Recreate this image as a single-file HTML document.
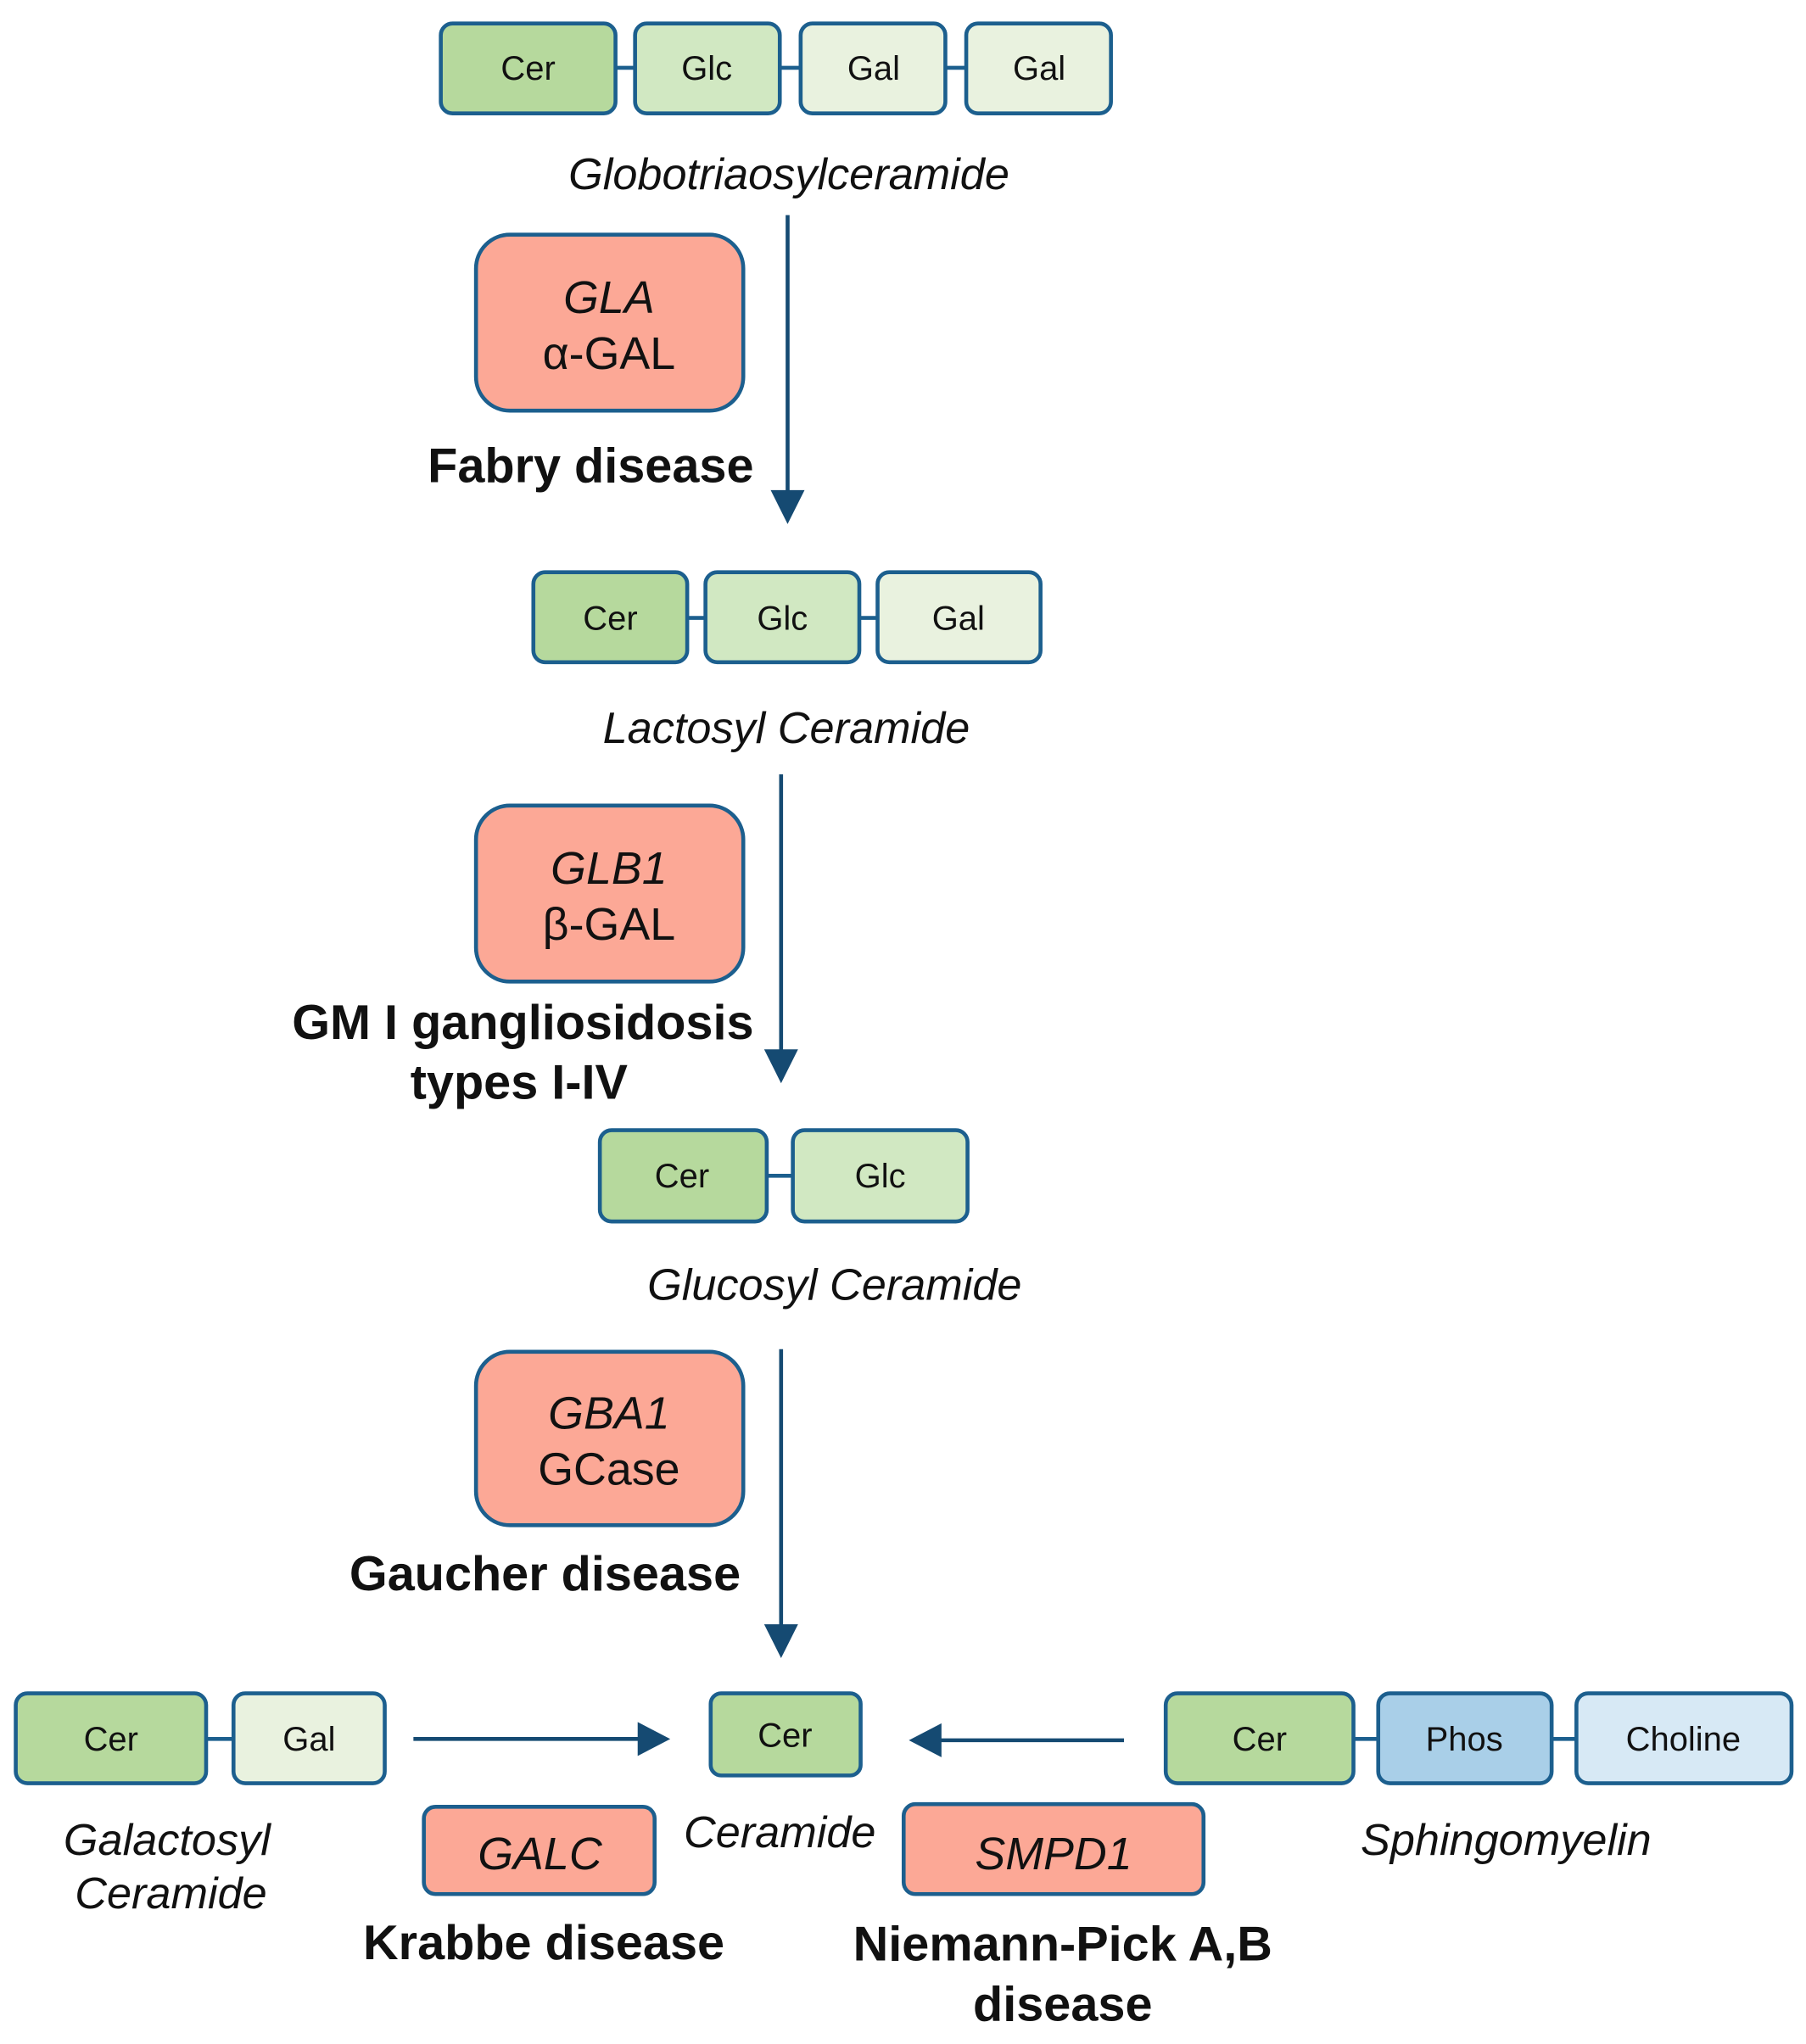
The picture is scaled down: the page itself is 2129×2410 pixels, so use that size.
<!DOCTYPE html>
<html><head><meta charset="utf-8"><style>
html,body{margin:0;padding:0;background:#fff;}
svg{display:block;}
text{font-family:"Liberation Sans",sans-serif;fill:#111;}
.b{font-size:26px;text-anchor:middle;}
.i{font-size:34px;font-style:italic;text-anchor:middle;}
.e{font-size:35px;text-anchor:middle;}
.d{font-size:37.5px;font-weight:bold;}
.g1{fill:#b6d99d;stroke:#1c5f8e;stroke-width:3;}
.g2{fill:#d1e8c2;stroke:#1c5f8e;stroke-width:3;}
.g3{fill:#e9f2df;stroke:#1c5f8e;stroke-width:3;}
.p1{fill:#a9cfe8;stroke:#1c5f8e;stroke-width:3;}
.p2{fill:#d7e9f5;stroke:#1c5f8e;stroke-width:3;}
.r{fill:#fca896;stroke:#1c5f8e;stroke-width:3;}
.c{stroke:#1c5f8e;stroke-width:3;}
.a{stroke:#154a72;stroke-width:3;}
.ah{fill:#154a72;}
</style></head><body>
<svg width="2129" height="2410" viewBox="0 0 1385 1568" xmlns="http://www.w3.org/2000/svg">
<line class="c" x1="472" y1="52" x2="741" y2="52"/>
<rect class="g1" x="338" y="18" width="134" height="69" rx="9"/>
<rect class="g2" x="487" y="18" width="111" height="69" rx="9"/>
<rect class="g3" x="614" y="18" width="111" height="69" rx="9"/>
<rect class="g3" x="741" y="18" width="111" height="69" rx="9"/>
<text class="b" x="405" y="61">Cer</text>
<text class="b" x="542" y="61">Glc</text>
<text class="b" x="670" y="61">Gal</text>
<text class="b" x="797" y="61">Gal</text>
<text class="i" x="605" y="145">Globotriaosylceramide</text>
<line class="a" x1="604" y1="165" x2="604" y2="380"/>
<polygon class="ah" points="591,376 617,376 604,402"/>
<rect class="r" x="365" y="180" width="205" height="135" rx="26"/>
<text class="e" x="467" y="240" font-style="italic">GLA</text>
<text class="e" x="467" y="283">α-GAL</text>
<text class="d" x="578" y="370" text-anchor="end">Fabry disease</text>
<line class="c" x1="527" y1="474" x2="673" y2="474"/>
<rect class="g1" x="409" y="439" width="118" height="69" rx="9"/>
<rect class="g2" x="541" y="439" width="118" height="69" rx="9"/>
<rect class="g3" x="673" y="439" width="125" height="69" rx="9"/>
<text class="b" x="468" y="483">Cer</text>
<text class="b" x="600" y="483">Glc</text>
<text class="b" x="735" y="483">Gal</text>
<text class="i" x="603" y="570">Lactosyl Ceramide</text>
<line class="a" x1="599" y1="594" x2="599" y2="808"/>
<polygon class="ah" points="586,805 612,805 599,831"/>
<rect class="r" x="365" y="618" width="205" height="135" rx="26"/>
<text class="e" x="467" y="678" font-style="italic">GLB1</text>
<text class="e" x="467" y="721">β-GAL</text>
<text class="d" x="578" y="797" text-anchor="end">GM I gangliosidosis</text>
<text class="d" x="398" y="843" text-anchor="middle">types I-IV</text>
<line class="c" x1="588" y1="902" x2="608" y2="902"/>
<rect class="g1" x="460" y="867" width="128" height="70" rx="9"/>
<rect class="g2" x="608" y="867" width="134" height="70" rx="9"/>
<text class="b" x="523" y="911">Cer</text>
<text class="b" x="675" y="911">Glc</text>
<text class="i" x="640" y="997">Glucosyl Ceramide</text>
<line class="a" x1="599" y1="1035" x2="599" y2="1250"/>
<polygon class="ah" points="586,1246 612,1246 599,1272"/>
<rect class="r" x="365" y="1037" width="205" height="133" rx="26"/>
<text class="e" x="467" y="1096" font-style="italic">GBA1</text>
<text class="e" x="467" y="1139">GCase</text>
<text class="d" x="568" y="1220" text-anchor="end">Gaucher  disease</text>
<line class="c" x1="158" y1="1334" x2="179" y2="1334"/>
<rect class="g1" x="12" y="1299" width="146" height="69" rx="9"/>
<rect class="g3" x="179" y="1299" width="116" height="69" rx="9"/>
<text class="b" x="85" y="1343">Cer</text>
<text class="b" x="237" y="1343">Gal</text>
<line class="a" x1="317" y1="1334" x2="492" y2="1334"/>
<polygon class="ah" points="489,1321 489,1347 514,1334"/>
<rect class="g1" x="545" y="1299" width="115" height="63" rx="8"/>
<text class="b" x="602" y="1340">Cer</text>
<line class="a" x1="718" y1="1335" x2="862" y2="1335"/>
<polygon class="ah" points="722,1322 722,1348 697,1335"/>
<line class="c" x1="1038" y1="1334" x2="1209" y2="1334"/>
<rect class="g1" x="894" y="1299" width="144" height="69" rx="9"/>
<rect class="p1" x="1057" y="1299" width="133" height="69" rx="9"/>
<rect class="p2" x="1209" y="1299" width="165" height="69" rx="9"/>
<text class="b" x="966" y="1343">Cer</text>
<text class="b" x="1123" y="1343">Phos</text>
<text class="b" x="1291" y="1343">Choline</text>
<text class="i" x="128" y="1423">Galactosyl</text>
<text class="i" x="131" y="1464">Ceramide</text>
<text class="i" x="598" y="1417">Ceramide</text>
<text class="i" x="1155" y="1423">Sphingomyelin</text>
<rect class="r" x="325" y="1386" width="177" height="67" rx="9"/>
<text class="e" x="414" y="1434" font-style="italic" font-size="37">GALC</text>
<rect class="r" x="693" y="1384" width="230" height="69" rx="9"/>
<text class="e" x="808" y="1434" font-style="italic" font-size="37">SMPD1</text>
<text class="d" x="417" y="1503" text-anchor="middle">Krabbe disease</text>
<text class="d" x="815" y="1504" text-anchor="middle">Niemann-Pick  A,B</text>
<text class="d" x="815" y="1550" text-anchor="middle">disease</text>
</svg>
</body></html>
